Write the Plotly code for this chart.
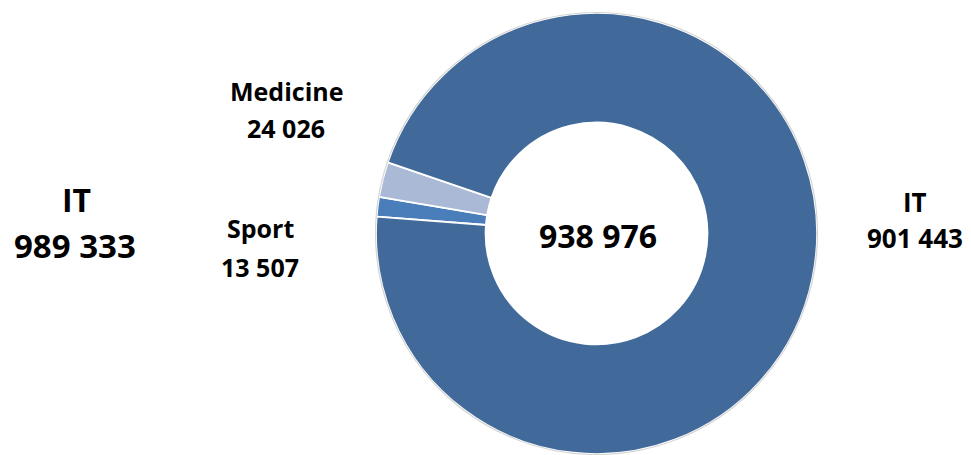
import plotly.graph_objects as go

# Slice data (drawn clockwise in this order)
categories = ["Sport", "Medicine", "IT"]
values = [13507, 24026, 901443]
colors = ["#4A7EBB", "#A9B9D6", "#416A9B"]

# Separate headline figure shown on the left
side_label = "IT"
side_value = 989333

W, H = 971, 455
cx, cy, r = 596.5, 233.5, 220.5   # donut centre / radius in pixels
FONT = "Open Sans"


def fmt(v):
    return f"{v:,}".replace(",", " ")


total = sum(values)

fig = go.Figure(
    go.Pie(
        labels=categories,
        values=values,
        sort=False,
        direction="clockwise",
        rotation=274.4 - 360,
        hole=0.503,
        marker=dict(colors=colors, line=dict(color="white", width=1.8)),
        textinfo="none",
        hoverinfo="label+value",
        showlegend=False,
        domain=dict(
            x=[(cx - r) / W, (cx + r) / W],
            y=[1 - (cy + r) / H, 1 - (cy - r) / H],
        ),
    )
)

# thin grey rim around the outer edge of the ring
fig.add_shape(
    type="circle", xref="paper", yref="paper",
    x0=(cx - r - 0.5) / W, x1=(cx + r + 0.5) / W,
    y0=1 - (cy + r + 0.5) / H, y1=1 - (cy - r - 0.5) / H,
    line=dict(color="#D4D4D4", width=1.2), layer="above",
)


def note(x, y, text, size):
    fig.add_annotation(
        x=x / W, y=1 - y / H, xref="paper", yref="paper",
        text=text, showarrow=False, xanchor="center", yanchor="middle",
        align="center",
        font=dict(family=FONT, size=size, color="#000000", weight="bold"),
    )


# (x centre, name line y, value line y, font size)
label_pos = {
    "Medicine": (286, 91, 128, 25),
    "Sport": (260, 228, 267, 25),
    "IT": (915, 202, 238, 26),
}
for name, val in zip(categories, values):
    x, y1, y2, size = label_pos[name]
    note(x, y1, name, size)
    note(x, y2, fmt(val), size)

note(598, 235, fmt(total), 32)
note(76, 199, side_label, 32)
note(75, 245, fmt(side_value), 33)

fig.update_layout(
    width=W, height=H,
    margin=dict(l=0, r=0, t=0, b=0),
    paper_bgcolor="white", plot_bgcolor="white",
)

fig.write_html("out.html")
